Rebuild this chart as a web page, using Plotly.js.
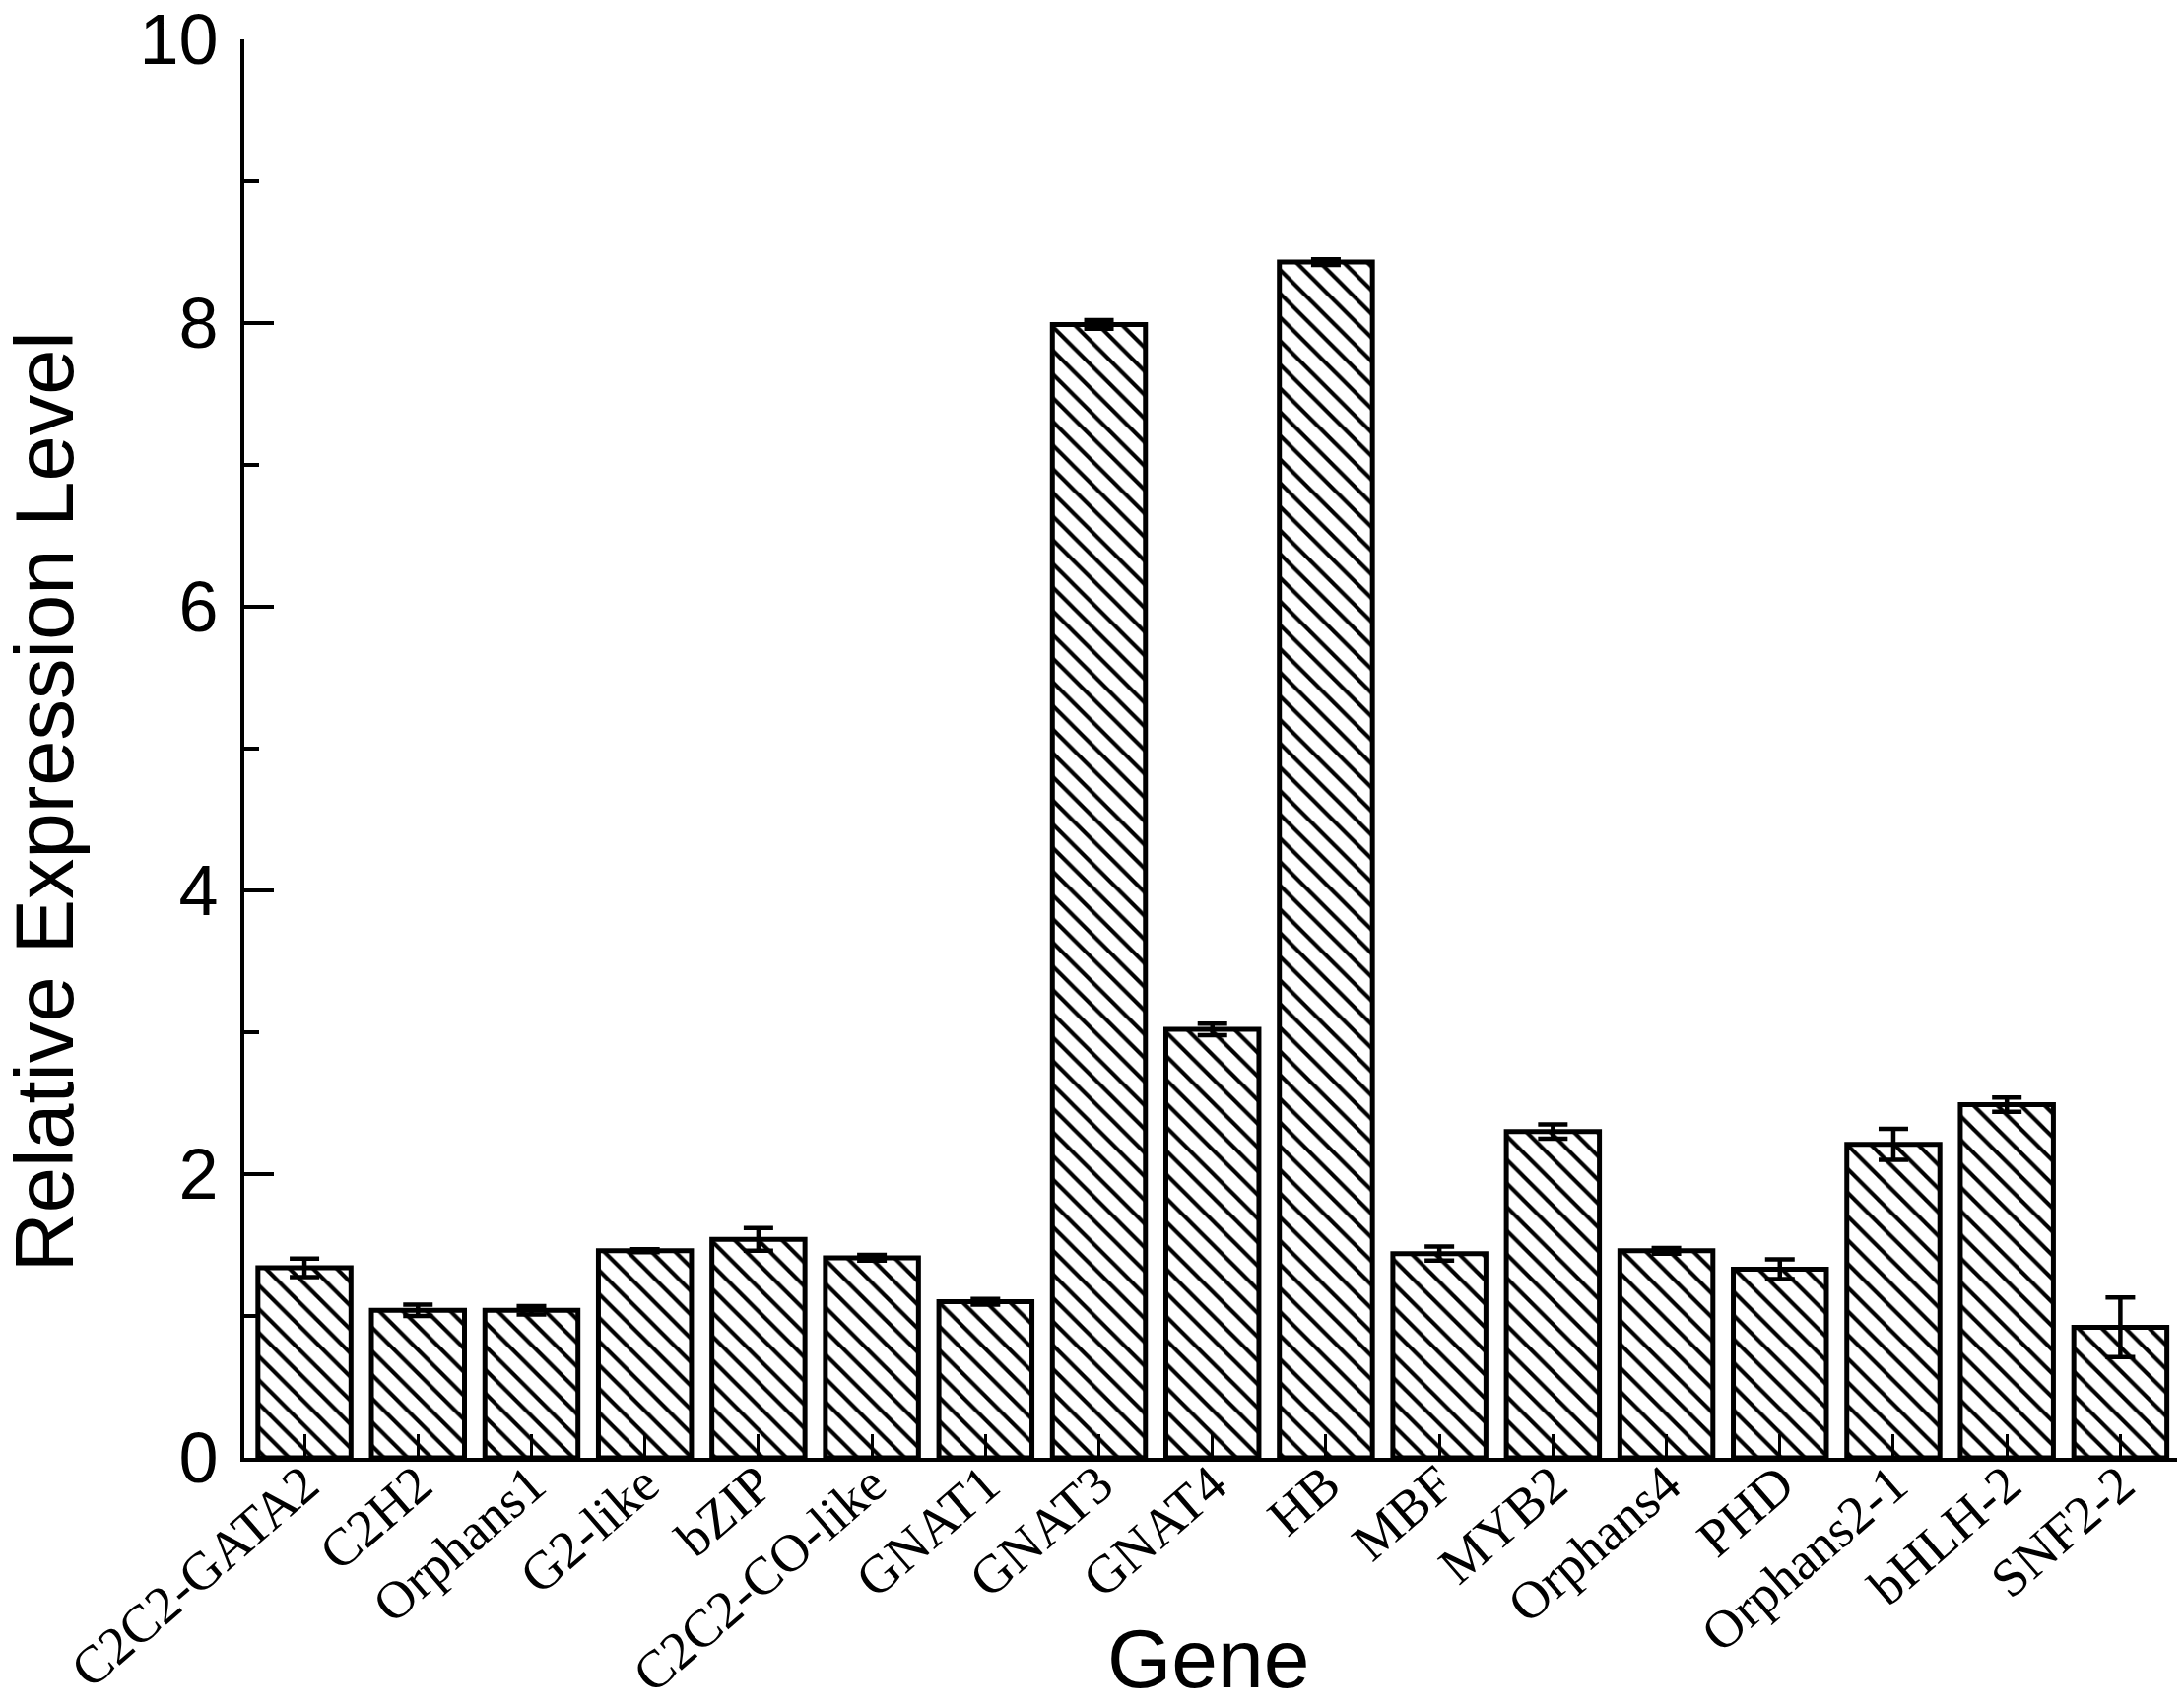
<!DOCTYPE html>
<html>
<head>
<meta charset="utf-8">
<script src="https://cdn.plot.ly/plotly-3.0.1.min.js"></script>
<style>
  html, body { margin: 0; padding: 0; background: #fff; }
  #chart { width: 2217px; height: 1734px; }
</style>
</head>
<body>
<div id="chart"></div>
<script>
let genes = ["C2C2-GATA2", "C2H2", "Orphans1", "G2-like", "bZIP", "C2C2-CO-like", "GNAT1",
             "GNAT3", "GNAT4", "HB", "MBF", "MYB2", "Orphans4", "PHD", "Orphans2-1", "bHLH-2", "SNF2-2"];
let expression = [1.34, 1.04, 1.04, 1.46, 1.54, 1.41, 1.10, 7.99, 3.02, 8.43, 1.44, 2.30, 1.46, 1.33, 2.21, 2.49, 0.92];
let expressionErr = [0.065, 0.04, 0.03, 0.01, 0.08, 0.02, 0.02, 0.03, 0.04, 0.02, 0.05, 0.05, 0.02, 0.07, 0.11, 0.05, 0.21];
let yTicks = [0, 2, 4, 6, 8, 10];
let yMinorTicks = [1, 3, 5, 7, 9];

let bars = {
    type: "bar",
    x: genes.map((g, i) => i),
    y: expression,
    width: 0.82,
    marker: {
        color: "#ffffff",
        line: { color: "#000000", width: 5 },
        pattern: { shape: "\\", fgcolor: "#000000", bgcolor: "#ffffff", size: 17, solidity: 0.24 }
    },
    error_y: { type: "data", array: expressionErr, visible: true, color: "#000000", thickness: 4.5, width: 15 },
    hoverinfo: "none"
};

let layout = {
    width: 2217,
    height: 1734,
    margin: { l: 248, r: 7, t: 40, b: 254 },
    paper_bgcolor: "#ffffff",
    plot_bgcolor: "#ffffff",
    showlegend: false,
    xaxis: {
        range: [-0.53, 16.5],
        tickmode: "array",
        tickvals: genes.map((g, i) => i),
        ticktext: genes,
        tickangle: -41,
        ticks: "inside",
        ticklen: 24,
        tickwidth: 3,
        tickcolor: "#000000",
        ticklabelstandoff: -30,
        ticklabeloverflow: "allow",
        showline: true,
        linecolor: "#000000",
        linewidth: 4,
        showgrid: false,
        zeroline: false,
        tickfont: { family: "Liberation Serif, Times New Roman, serif", size: 54, color: "#000000" }
    },
    yaxis: {
        range: [0, 10],
        tickmode: "array",
        tickvals: yTicks,
        ticktext: yTicks.map(String),
        ticks: "inside",
        ticklen: 30,
        tickwidth: 4,
        tickcolor: "#000000",
        minor: { tickmode: "array", tickvals: yMinorTicks, ticks: "inside", ticklen: 15, tickwidth: 4, tickcolor: "#000000", showgrid: false },
        showline: true,
        linecolor: "#000000",
        linewidth: 4,
        showgrid: false,
        zeroline: false,
        ticklabelstandoff: 8,
        ticklabeloverflow: "allow",
        tickfont: { family: "Liberation Sans, Arial, sans-serif", size: 72, color: "#000000" }
    },
    annotations: [
        {
            text: "Relative Expression Level",
            xref: "paper", yref: "paper",
            x: -0.1035, y: 0.463,
            xanchor: "center", yanchor: "middle",
            textangle: -90,
            showarrow: false,
            font: { family: "Liberation Sans, Arial, sans-serif", size: 83, color: "#000000" }
        },
        {
            text: "Gene",
            xref: "paper", yref: "paper",
            x: 0.499, y: -0.1417,
            xanchor: "center", yanchor: "middle",
            showarrow: false,
            font: { family: "Liberation Sans, Arial, sans-serif", size: 84, color: "#000000" }
        }
    ]
};

Plotly.newPlot("chart", [bars], layout, { displayModeBar: false, staticPlot: true });
</script>
</body>
</html>
